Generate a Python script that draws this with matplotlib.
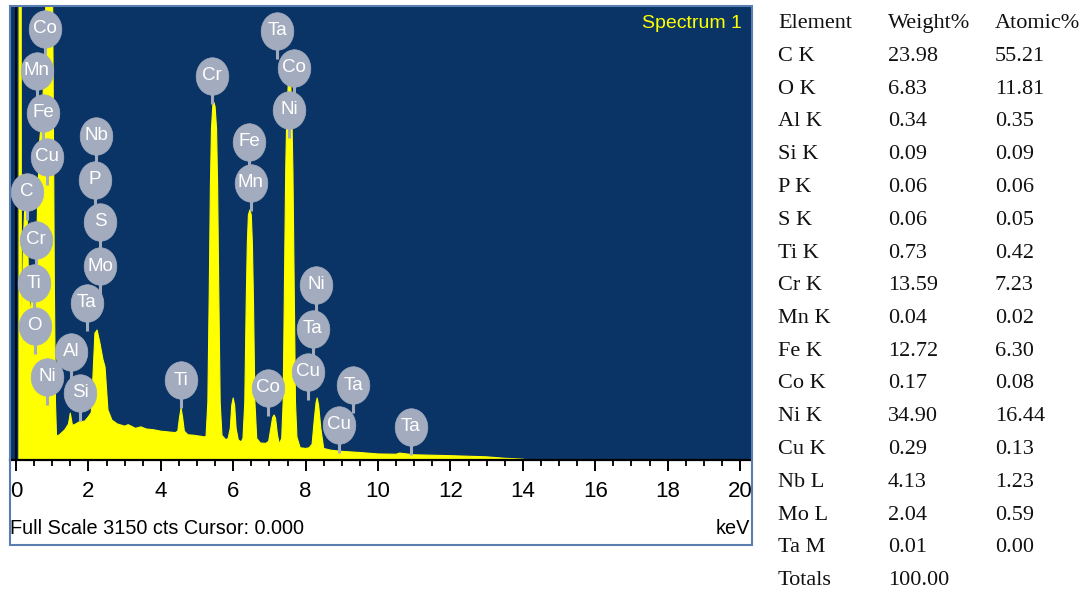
import numpy as np
import matplotlib
matplotlib.use("Agg")
import matplotlib.pyplot as plt
from matplotlib.path import Path
from matplotlib.transforms import Affine2D
from matplotlib.patches import Rectangle

# ---------------- data ----------------
energy_kev = [0.00, 0.08, 0.09, 0.14, 0.15, 0.16, 0.20, 0.25, 0.30, 0.35, 0.40, 0.45,
              0.50, 0.55, 0.60, 0.65, 0.72, 0.80, 0.85, 0.92, 1.00, 1.03, 1.06, 1.09,
              1.12, 1.20, 1.35, 1.45, 1.50, 1.56, 1.65, 1.75, 1.90, 2.00, 2.08, 2.13,
              2.18, 2.24, 2.32, 2.40, 2.46, 2.54, 2.65, 2.80, 3.00, 3.10, 3.30, 3.45,
              3.60, 3.80, 4.00, 4.20, 4.40, 4.47, 4.52, 4.56, 4.60, 4.65, 4.75, 4.90,
              5.00, 5.10, 5.20, 5.25, 5.30, 5.34, 5.37, 5.40, 5.44, 5.47, 5.50, 5.54,
              5.57, 5.60, 5.64, 5.69, 5.80, 5.86, 5.92, 5.96, 6.00, 6.04, 6.08, 6.14,
              6.22, 6.27, 6.32, 6.36, 6.39, 6.42, 6.46, 6.50, 6.53, 6.56, 6.60, 6.65,
              6.75, 6.90, 6.98, 7.04, 7.09, 7.13, 7.17, 7.22, 7.27, 7.34, 7.38, 7.42,
              7.45, 7.48, 7.52, 7.55, 7.59, 7.62, 7.65, 7.68, 7.72, 7.76, 7.85, 8.00,
              8.10, 8.18, 8.24, 8.29, 8.32, 8.36, 8.42, 8.50, 8.70, 9.00, 9.50, 10.00,
              10.50, 10.60, 11.00, 11.50, 12.00, 12.50, 13.00, 13.50, 14.00, 14.10]
counts = [0, 0, 5000, 5000, 300, 600, 1500, 1800, 1800, 1200, 1000, 1200,
          1300, 1300, 1800, 2200, 2400, 2800, 3600, 4000, 3600, 2500, 1200, 400,
          165, 175, 210, 250, 325, 240, 250, 265, 270, 300, 330, 600,
          880, 902, 810, 700, 645, 347, 277, 250, 235, 245, 220, 230,
          215, 210, 200, 195, 190, 200, 300, 360, 300, 200, 175, 172,
          168, 165, 160, 165, 400, 1200, 1900, 2300, 2470, 2480, 2450, 2300,
          1900, 1200, 400, 170, 140, 150, 220, 380, 430, 380, 220, 140,
          125, 150, 400, 1100, 1500, 1700, 1735, 1700, 1500, 1100, 400, 150,
          118, 115, 130, 220, 295, 312, 290, 180, 110, 150, 400, 1300,
          2000, 2400, 2600, 2620, 2600, 2400, 2000, 1300, 400, 160, 85, 80,
          85, 110, 280, 400, 430, 380, 220, 80, 68, 60, 52, 42,
          40, 48, 36, 33, 30, 26, 22, 12, 6, 0]

x_ticks = [0, 2, 4, 6, 8, 10, 12, 14, 16, 18, 20]

peak_labels = ["Co", "Mn", "Fe", "Cu", "C", "Cr", "Ti", "O", "Ni",
               "Nb", "P", "S", "Mo", "Ta", "Al", "Si",
               "Cr", "Ta", "Co", "Ni", "Fe", "Mn",
               "Ni", "Ta", "Cu", "Ti", "Co", "Ta", "Cu", "Ta"]
peak_label_kev = [0.80, 0.58, 0.75, 0.86, 0.30, 0.55, 0.50, 0.52, 0.86,
                  2.21, 2.18, 2.32, 2.32, 1.96, 1.52, 1.77,
                  5.41, 7.21, 7.68, 7.54, 6.44, 6.49,
                  8.29, 8.20, 8.07, 4.56, 6.96, 9.31, 8.92, 10.91]
# vertical placement of the badges (layout, in counts units)
badge_height = [2991, 2700, 2408, 2103, 1860, 1527, 1228, 930, 576,
                2249, 1943, 1652, 1346, 1090, 750, 465,
                2665, 2977, 2720, 2429, 2207, 1922,
                1215, 909, 611, 555, 500, 520, 243, 229]

table_elements = ["C K", "O K", "Al K", "Si K", "P K", "S K", "Ti K", "Cr K",
                  "Mn K", "Fe K", "Co K", "Ni K", "Cu K", "Nb L", "Mo L", "Ta M", "Totals"]
table_weight = ["23.98", "6.83", "0.34", "0.09", "0.06", "0.06", "0.73", "13.59",
                "0.04", "12.72", "0.17", "34.90", "0.29", "4.13", "2.04", "0.01", "100.00"]
table_atomic = ["55.21", "11.81", "0.35", "0.09", "0.06", "0.05", "0.42", "7.23",
                "0.02", "6.30", "0.08", "16.44", "0.13", "1.23", "0.59", "0.00", ""]

# ---------------- figure ----------------
W, H = 1088, 592
fig = plt.figure(figsize=(W / 100, H / 100), dpi=100)
fig.patch.set_facecolor("white")

ax_l, ax_r, ax_t, ax_b = 10, 751, 6, 460
ax = fig.add_axes([ax_l / W, 1 - ax_b / H, (ax_r - ax_l) / W, (ax_b - ax_t) / H])
navy = "#0a3466"
ax.set_facecolor(navy)
px_per_kev = 36.2
zero_px = 16
ax.set_xlim(-(zero_px - ax_l) / px_per_kev, (ax_r - zero_px) / px_per_kev)
full_scale = 3150
ax.set_ylim(0, full_scale)

yellow = "#ffff00"
ax.fill_between(energy_kev, counts, 0, color=yellow, linewidth=0, zorder=2)
ax.plot(energy_kev, counts, color=yellow, lw=0.8, zorder=2)

# cursor line at 0 keV
ax.axvline(0.0, color="black", lw=1.2, zorder=3)

# badges
counts_per_px = full_scale / (ax_b - ax_t)
badge_color = "#a3acbe"
stem_len = 28 * counts_per_px
for e, c in zip(peak_label_kev, badge_height):
    ax.plot([e, e], [c, c - stem_len], color=badge_color, lw=2.2, zorder=4,
            solid_capstyle="butt")
circ = Path.unit_circle()
ell = Path(Affine2D().scale(1.0, 1.15).transform(circ.vertices), circ.codes)
for t, e, c in zip(peak_labels, peak_label_kev, badge_height):
    ax.plot([e], [c], marker=ell, markersize=27, markerfacecolor=badge_color,
            markeredgecolor=badge_color, markeredgewidth=0.5, zorder=5, linestyle="none")
    ax.text(e, c, t, color="white", fontsize=13.5, family="Liberation Sans",
            ha="center", va="center", zorder=6)

ax.text((742 - ax_l) / (ax_r - ax_l), 1 - (24 - ax_t) / (ax_b - ax_t), "Spectrum 1",
        transform=ax.transAxes, color=yellow, fontsize=14, family="Liberation Sans",
        ha="right", va="center", zorder=7)

# axes styling
for s in ["top", "left", "right"]:
    ax.spines[s].set_visible(False)
ax.spines["bottom"].set_color("black")
ax.spines["bottom"].set_linewidth(1.6)
ax.set_yticks([])
ax.set_xticks(x_ticks)
ax.set_xticks(np.arange(0, 20.01, 0.5), minor=True)
ax.tick_params(axis="x", which="major", direction="out", length=8, width=1.4,
               color="black", labelsize=16, pad=7)
ax.tick_params(axis="x", which="minor", direction="out", length=4.3, width=1.3, color="black")
for lab in ax.get_xticklabels():
    lab.set_family("Liberation Sans")

# text under the axis
fig.text(10 / W, 1 - 528 / H, "Full Scale 3150 cts Cursor: 0.000", fontsize=14.3,
         family="Liberation Sans", ha="left", va="center", color="black")
fig.text(750 / W, 1 - 528 / H, "keV", fontsize=14.3, family="Liberation Sans",
         ha="right", va="center", color="black")

# panel frame
fig.patches.append(Rectangle((10 / W, 1 - 545 / H), (752 - 10) / W, (545 - 6) / H,
                             transform=fig.transFigure, fill=False,
                             edgecolor="#5a7db2", lw=1.5, zorder=10))

# table
col_x = [778, 888, 995]
tfont = dict(fontsize=16, family="Liberation Serif", color="#111111",
             ha="left", va="baseline")
header_base = 20 + 8
fig.text(col_x[0] / W, 1 - header_base / H, "Element", **tfont)
fig.text(col_x[1] / W, 1 - header_base / H, "Weight%", **tfont)
fig.text(col_x[2] / W, 1 - header_base / H, "Atomic%", **tfont)
for i, (el, w, a) in enumerate(zip(table_elements, table_weight, table_atomic)):
    yb = 53 + 32.75 * i + 8
    fig.text(col_x[0] / W, 1 - yb / H, el, **tfont)
    fig.text(col_x[1] / W, 1 - yb / H, w, **tfont)
    if a:
        fig.text(col_x[2] / W, 1 - yb / H, a, **tfont)

fig.savefig("out.png", dpi=100)
